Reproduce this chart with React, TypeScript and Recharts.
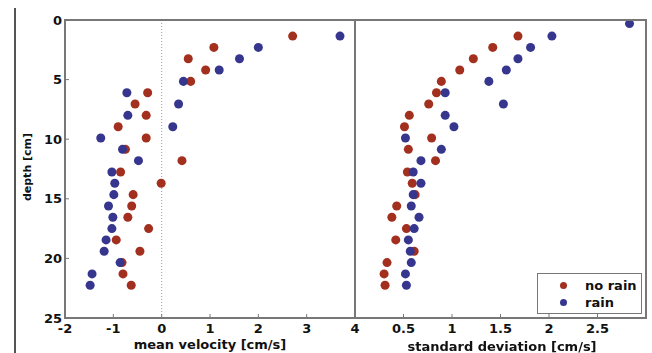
import React from 'react'
import {
  ScatterChart, Scatter, XAxis, YAxis, ReferenceLine,
} from 'recharts'

// depth levels [cm], shared by both panels
const depths = [
  1.35, 2.3, 3.25, 4.2, 5.15, 6.1, 7.05, 8.0, 8.95, 9.9, 10.85, 11.8,
  12.75, 13.7, 14.65, 15.6, 16.55, 17.5, 18.45, 19.4, 20.35, 21.3, 22.25,
]

// mean velocity [cm/s]
const velNoRain = [
  2.71, 1.08, 0.55, 0.91, 0.6, -0.29, -0.55, -0.32, -0.9, -0.32, -0.75, 0.42,
  -0.85, -0.01, -0.59, -0.62, -0.7, -0.27, -0.94, -0.45, -0.82, -0.8, -0.63,
]
const velRain = [
  3.69, 2.0, 1.61, 1.19, 0.45, -0.72, 0.35, -0.7, 0.23, -1.26, -0.81, -0.48,
  -1.03, -0.97, -0.99, -1.1, -1.01, -1.03, -1.15, -1.19, -0.86, -1.44, -1.48,
]

// standard deviation [cm/s]
const sdNoRain = [
  1.68, 1.42, 1.22, 1.08, 0.89, 0.84, 0.76, 0.56, 0.51, 0.79, 0.55, 0.83,
  0.54, 0.59, 0.62, 0.43, 0.38, 0.53, 0.42, 0.61, 0.33, 0.3, 0.31,
]
const sdRainDepths = [0.3, ...depths]
const sdRain = [
  2.83, 2.03, 1.81, 1.68, 1.56, 1.38, 0.93, 1.53, 0.93, 1.02, 0.52, 0.89, 0.68,
  0.6, 0.68, 0.6, 0.58, 0.66, 0.61, 0.55, 0.57, 0.58, 0.52, 0.53,
]

const depthTicks = [0, 5, 10, 15, 20, 25]
const velTicks = [-2, -1, 0, 1, 2, 3, 4]
const sdTicks = [0.5, 1, 1.5, 2, 2.5]

const RED = '#a3301f'
const BLUE = '#36368f'
const FRAME = '#777777'
const FONT = '"DejaVu Sans", sans-serif'

const toPoints = (xs: number[], ys: number[]) => xs.map((x, i) => ({ x, y: ys[i] }))

const tickStyle = { fill: '#111', fontSize: 13, fontWeight: 700, fontFamily: FONT }

const labelStyle: React.CSSProperties = {
  position: 'absolute', transform: 'translate(-50%, -50%)', fontWeight: 700,
  whiteSpace: 'nowrap', color: '#111', lineHeight: 1,
}

const boxStyle = (left: number, width: number): React.CSSProperties => ({
  position: 'absolute', left, top: 19, width, height: 300, zIndex: 5,
  borderStyle: 'solid', borderColor: FRAME, borderWidth: 2, boxSizing: 'border-box',
})

export default function App() {
  return (
    <div style={{ position: 'fixed', left: 0, top: 0, width: 652, height: 353, background: '#fff', fontFamily: FONT }}>
      <div style={{ position: 'absolute', left: 14, top: 8, width: 2, height: 345, background: '#555' }} />

      <div style={{ position: 'absolute', left: 0, top: 0 }}>
        <ScatterChart width={360} height={353} margin={{ top: 20, right: 5, bottom: 15, left: 10 }}>
          <XAxis type="number" dataKey="x" domain={[-2, 4]} ticks={velTicks} height={20}
            tick={tickStyle} tickSize={-4} tickMargin={10} stroke={FRAME} />
          <YAxis type="number" dataKey="y" domain={[0, 25]} ticks={depthTicks} reversed width={55}
            tick={tickStyle} tickSize={-4} tickMargin={7} stroke={FRAME} />
          <ReferenceLine x={0} stroke="#999" strokeDasharray="1 2" />
          <Scatter data={toPoints(velNoRain, depths)} fill={RED} isAnimationActive={false} />
          <Scatter data={toPoints(velRain, depths)} fill={BLUE} isAnimationActive={false} />
        </ScatterChart>
      </div>

      <div style={{ position: 'absolute', left: 355, top: 0 }}>
        <ScatterChart width={297} height={353} margin={{ top: 20, right: 6, bottom: 15, left: 0 }}>
          <XAxis type="number" dataKey="x" domain={[0, 3]} ticks={sdTicks} height={20}
            tick={tickStyle} tickSize={-4} tickMargin={10} stroke={FRAME} />
          <YAxis type="number" dataKey="y" domain={[0, 25]} ticks={depthTicks} reversed width={0}
            tick={false} tickSize={-4} stroke={FRAME} />
          <Scatter data={toPoints(sdNoRain, depths)} fill={RED} isAnimationActive={false} />
          <Scatter data={toPoints(sdRain, sdRainDepths)} fill={BLUE} isAnimationActive={false} />
        </ScatterChart>
      </div>

      <div style={boxStyle(64, 292)} />
      <div style={boxStyle(354, 293)} />

      <div style={{ ...labelStyle, left: 27, top: 167, fontSize: 11, transform: 'translate(-50%, -50%) rotate(-90deg)' }}>depth [cm]</div>
      <div style={{ ...labelStyle, left: 210, top: 344, fontSize: 13 }}>mean velocity [cm/s]</div>
      <div style={{ ...labelStyle, left: 502, top: 346, fontSize: 13 }}>standard deviation [cm/s]</div>

      <div style={{
        position: 'absolute', left: 537, top: 273, width: 105, height: 41, border: `1px solid ${FRAME}`, zIndex: 6,
        boxSizing: 'border-box', background: '#fff', fontSize: 13, fontWeight: 700, color: '#111',
      }}>
        {[['no rain', RED], ['rain', BLUE]].map(([label, c], i) => (
          <div key={label} style={{ position: 'absolute', left: 0, top: 3 + i * 17, height: 16, display: 'flex', alignItems: 'center' }}>
            <span style={{ position: 'absolute', left: 22, width: 7, height: 7, borderRadius: 4, background: c }} />
            <span style={{ position: 'absolute', left: 47, whiteSpace: 'nowrap' }}>{label}</span>
          </div>
        ))}
      </div>
    </div>
  )
}
